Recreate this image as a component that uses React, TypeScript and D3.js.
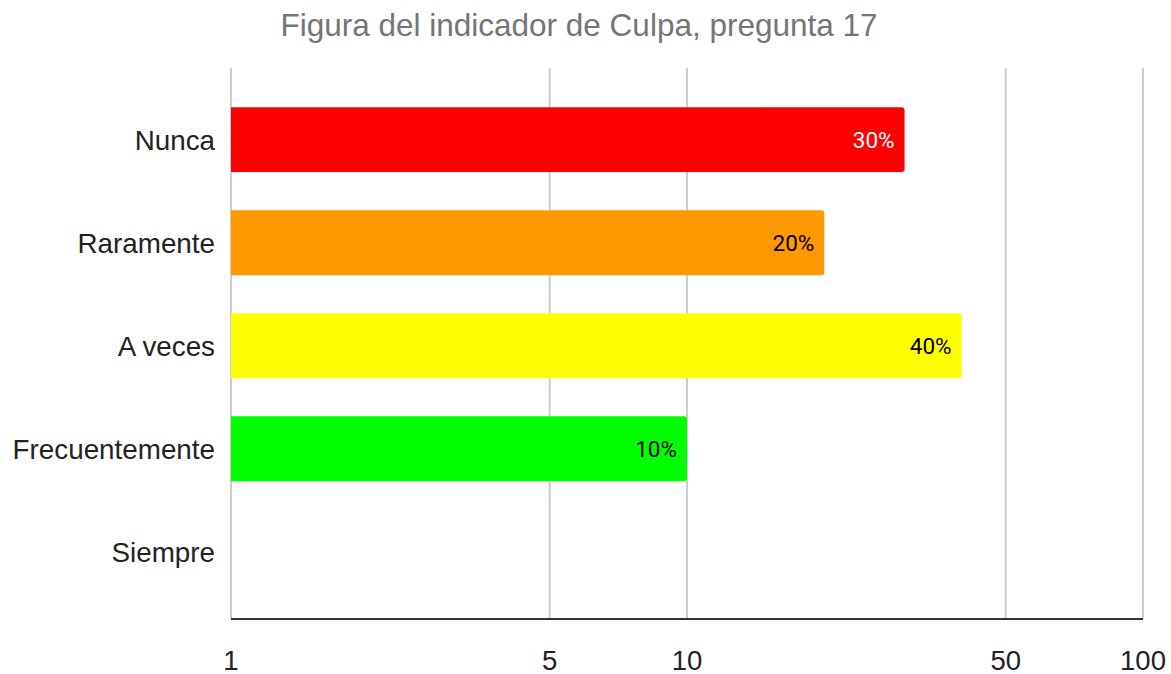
import React from "react";
import * as d3 from "d3";

const categories = ["Nunca", "Raramente", "A veces", "Frecuentemente", "Siempre"];
const values = [30, 20, 40, 10, 0];
const barColors = ["#ff0000", "#ff9900", "#ffff00", "#00ff00", "#9900ff"];
const labelColors = ["#ffffff", "#000000", "#000000", "#000000", "#000000"];
const tickValues = [1, 5, 10, 50, 100];
const title = "Figura del indicador de Culpa, pregunta 17";

const W = 1171;
const H = 674;
const left = 231;
const right = 1143;
const top = 68;
const bottom = 619;

function barPath(x0: number, y0: number, x1: number, h: number, r: number) {
  const w = x1 - x0;
  const rr = Math.min(r, w / 2, h / 2);
  return `M${x0},${y0}H${x1 - rr}Q${x1},${y0} ${x1},${y0 + rr}V${y0 + h - rr}Q${x1},${y0 + h} ${x1 - rr},${y0 + h}H${x0}Z`;
}

export default function App() {
  const x = d3.scaleLog().domain([1, 100]).range([left, right]);
  const y = d3
    .scaleBand<string>()
    .domain(categories)
    .range([top, 623.5])
    .paddingInner(0.37)
    .paddingOuter(0.38);
  const font = "'Liberation Sans', Arial, sans-serif";
  return (
    <svg width={W} height={H} style={{ position: "absolute", left: 0, top: 0, background: "#fff" }}>
      <text x={579} y={36} textAnchor="middle" fontFamily={font} fontSize={31.5} fill="#757575">
        {title}
      </text>
      {tickValues.map((t) => (
        <line key={"g" + t} x1={x(t)} x2={x(t)} y1={top} y2={bottom} stroke="#cccccc" strokeWidth={2} />
      ))}
      {categories.map((c, i) =>
        values[i] > 1 ? (
          <path
            key={"b" + c}
            d={barPath(x(1), y(c)!, x(values[i]), y.bandwidth(), 3)}
            fill={barColors[i]}
          />
        ) : null
      )}
      {categories.map((c, i) =>
        values[i] > 1 ? (
          <text
            key={"l" + c}
            x={x(values[i]) - 10}
            y={y(c)! + y.bandwidth() / 2}
            dy="0.36em"
            textAnchor="end"
            fontFamily="Roboto, sans-serif"
            fontSize={22.5}
            fill={labelColors[i]}
          >
            {values[i] + "%"}
          </text>
        ) : null
      )}
      <line x1={left} x2={right} y1={bottom} y2={bottom} stroke="#333333" strokeWidth={2} />
      {categories.map((c) => (
        <text
          key={"c" + c}
          x={215}
          y={y(c)! + y.bandwidth() / 2}
          dy="0.36em"
          textAnchor="end"
          fontFamily={font}
          fontSize={27.8}
          fill="#222222"
        >
          {c}
        </text>
      ))}
      {tickValues.map((t) => (
        <text
          key={"t" + t}
          x={x(t)}
          y={670}
          textAnchor="middle"
          fontFamily={font}
          fontSize={27.5}
          fill="#222222"
        >
          {t}
        </text>
      ))}
    </svg>
  );
}
